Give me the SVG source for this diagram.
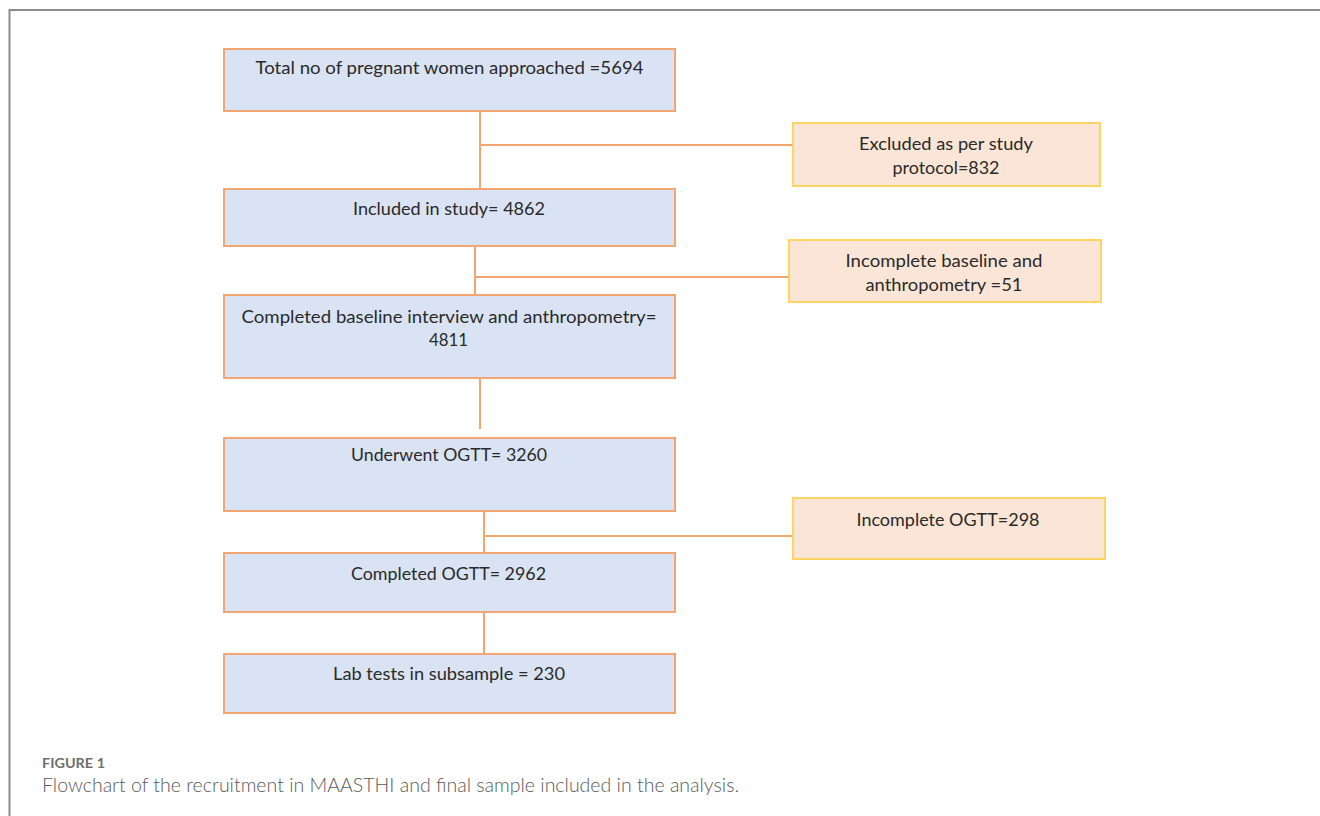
<svg xmlns="http://www.w3.org/2000/svg" width="1320" height="816" viewBox="0 0 1320 816">
<style>
.main{fill:#dae3f3;stroke:#f4a672;stroke-width:2}
.excl{fill:#fbe5d6;stroke:#ffd460;stroke-width:2}
.t{font-family:Lato,"Liberation Sans",sans-serif;font-size:18px;fill:#2a2a2a;text-anchor:middle}
.c{stroke:#f4a672;stroke-width:2;fill:none}
.frame{stroke:#8c8c8c;stroke-width:2;fill:none}
.cap1{font-family:Lato,"Liberation Sans",sans-serif;font-size:14px;font-weight:bold;fill:#6e6e6e}
.cap2{font-family:Lato,"Liberation Sans",sans-serif;font-size:19px;font-weight:300;fill:#5a5a5a}
</style>
<rect width="1320" height="816" fill="#fff"/>
<path class="frame" d="M9.5 816 V10 H1320"/>
<g id="connectors">
<path class="c" d="M480 111 V189 M480 145 H793"/>
<path class="c" d="M475 246 V295 M475 277 H789"/>
<path class="c" d="M480 378 V429"/>
<path class="c" d="M484 504 V553 M484 536 H793"/>
<path class="c" d="M484 605 V654"/>
</g>
<g id="n1"><rect class="main" x="224" y="49" width="451" height="62"/><text class="t" x="449.5" y="74" textLength="388" lengthAdjust="spacingAndGlyphs">Total no of pregnant women approached =5694</text></g>
<g id="n2"><rect class="main" x="224" y="189" width="451" height="57"/><text class="t" x="449" y="215" textLength="192" lengthAdjust="spacingAndGlyphs">Included in study= 4862</text></g>
<g id="n3"><rect class="main" x="224" y="295" width="451" height="83"/><text class="t" x="449" y="323" textLength="415" lengthAdjust="spacingAndGlyphs">Completed baseline interview and anthropometry=</text><text class="t" x="448.5" y="346" textLength="39" lengthAdjust="spacingAndGlyphs">4811</text></g>
<g id="n4"><rect class="main" x="224" y="438" width="451" height="73"/><text class="t" x="449" y="461" textLength="196" lengthAdjust="spacingAndGlyphs">Underwent OGTT= 3260</text></g>
<g id="n5"><rect class="main" x="224" y="553" width="451" height="59"/><text class="t" x="448.5" y="580" textLength="195" lengthAdjust="spacingAndGlyphs">Completed OGTT= 2962</text></g>
<g id="n6"><rect class="main" x="224" y="654" width="451" height="59"/><text class="t" x="449" y="680" textLength="232" lengthAdjust="spacingAndGlyphs">Lab tests in subsample = 230</text></g>
<g id="e1"><rect class="excl" x="793" y="123" width="307" height="63"/><text class="t" x="946" y="150" textLength="174" lengthAdjust="spacingAndGlyphs">Excluded as per study</text><text class="t" x="946" y="174" textLength="107" lengthAdjust="spacingAndGlyphs">protocol=832</text></g>
<g id="e2"><rect class="excl" x="789" y="240" width="312" height="62"/><text class="t" x="944" y="267" textLength="197" lengthAdjust="spacingAndGlyphs">Incomplete baseline and</text><text class="t" x="944" y="291" textLength="157" lengthAdjust="spacingAndGlyphs">anthropometry =51</text></g>
<g id="e3"><rect class="excl" x="793" y="498" width="312" height="61"/><text class="t" x="948" y="526" textLength="183" lengthAdjust="spacingAndGlyphs">Incomplete OGTT=298</text></g>
<text class="cap1" x="42" y="768" textLength="63" lengthAdjust="spacingAndGlyphs">FIGURE 1</text>
<text class="cap2" x="42" y="792" textLength="697" lengthAdjust="spacingAndGlyphs">Flowchart of the recruitment in MAASTHI and final sample included in the analysis.</text>
</svg>
